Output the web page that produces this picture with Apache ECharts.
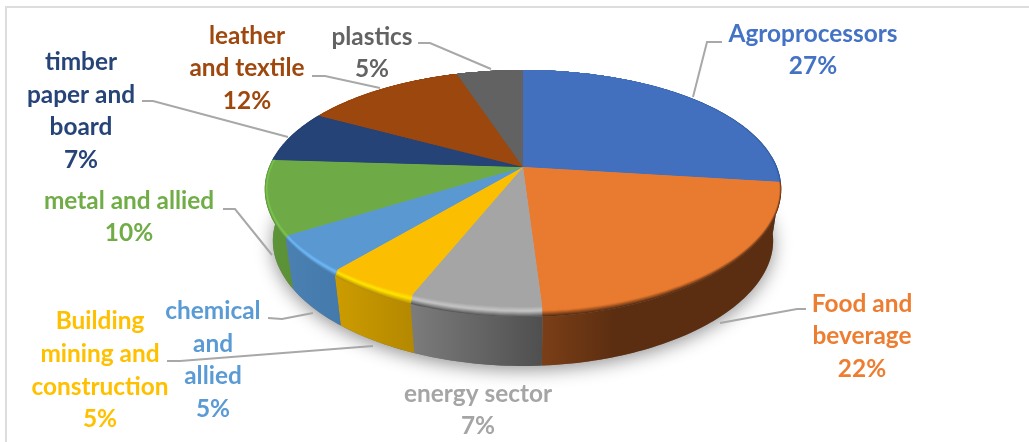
<!DOCTYPE html>
<html>
<head>
<meta charset="utf-8">
<style>html,body{margin:0;padding:0;background:#fff}#c{width:1029px;height:442px}</style>
<script src="https://cdn.jsdelivr.net/npm/echarts@6/dist/echarts.min.js"></script>
</head>
<body>
<div id="c"></div>
<script>
// ---- data ----
const categories = ['Agroprocessors','Food and\nbeverage','energy sector','Building\nmining and\nconstruction','chemical\nand\nallied','metal and allied','timber\npaper and\nboard','leather\nand textile','plastics'];
const shares = [27,22,7,5,5,10,7,12,5];

// ---- styles ----
const topColors   = ['#4270BE','#E97B30','#A5A5A5','#FBBE00','#5A98D2','#6EAB46','#254376','#9B470D','#626262'];
const textColors  = ['#4472C4','#ED7D31','#A5A5A5','#FFC000','#5B9BD5','#70AD47','#264478','#9E480E','#636363'];
const sideLeft    = ['#2F5597','#7B3F17','#7C7C7C','#CC9C00','#4A80B2','#5E9639','#1B3157','#6E330A','#474747'];
const sideRight   = ['#2F5597','#5C2E11','#4F4F4F','#B48800','#447AAB','#5B9037','#1B3157','#6E330A','#474747'];
const bevelMid    = ['#4270BE','#E97B30','#C6C6C6','#FFE600','#6FBBFA','#7FC853','#254376','#9B470D','#626262'];
const bevelEnd    = ['#2F5597','#5C2E11','#5A5A5A','#C49600','#4A80B2','#5E9639','#254376','#9B470D','#626262'];

// ---- layout ----
const labelCenters = [[813,50],[862,336.5],[478,410],[100,370.5],[213,360],[129,217],[81,111],[247,68.5],[372,53]];
const leaders = [
  [[722,42],[707,42],[693,97]],
  [[806,309],[797,309],[720,323]],
  null,
  [[167,361],[180,361],[373,346]],
  [[268,318],[282,319],[313,313]],
  [[223,209],[235,209],[272,255]],
  [[142,101],[153,101],[288,137]],
  [[312,76],[325,76],[380,88]],
  [[418,43],[430,43],[491,69]]
];
// perspective projection of a unit disc on to the page
const cx = 523;
const xPerspective = 0.181;
const faceRim   = {cy:167, rx:250.8, ry:114.6, k:0.181};
const outerRim  = {cy:167, rx:254.0, ry:117.8, k:0.2146};
const bottomRim = {cy:219, rx:246.0, ry:115.4, k:0.2146};
const bevelSteps = 10;

const total = shares.reduce((a,b)=>a+b,0);
const font = 'Lato, "Open Sans", sans-serif';

function project(p, a){
  const u = Math.sin(a), v = -Math.cos(a);
  return [cx + p.rx*u/(1 - xPerspective*v), p.cy + p.ry*v/(1 - p.k*v)];
}
function arcPts(p, a0, a1){
  const n = Math.max(2, Math.ceil(Math.abs(a1-a0)/0.02)), pts = [];
  for(let i=0;i<=n;i++) pts.push(project(p, a0+(a1-a0)*i/n));
  return pts;
}
function angleAt(i){
  let s=0; for(let j=0;j<i;j++) s+=shares[j];
  return s/total*2*Math.PI;
}
function hex(c){ return [1,3,5].map(o=>parseInt(c.substr(o,2),16)); }
function mix(a,b,t){
  const x=hex(a), y=hex(b);
  return 'rgb('+x.map((v,i)=>Math.round(v+(y[i]-v)*t)).join(',')+')';
}
function bevelColor(i,t){
  if(t<0.45) return mix(topColors[i],bevelMid[i],t/0.45);
  return mix(bevelMid[i],bevelEnd[i],(t-0.45)/0.55);
}
const fullCircle = arcPts(bottomRim, 0, 2*Math.PI);

function renderSlice(params, api){
  const i = api.value(0);
  const a0 = angleAt(i), a1 = a0 + api.value(1)/total*2*Math.PI;
  const children = [];
  // side wall: only the part facing the viewer
  const s0 = Math.max(a0, Math.PI*0.47), s1 = Math.min(a1, Math.PI*1.53);
  if(s1 > s0){
    const up = arcPts(outerRim, s0, s1), low = arcPts(bottomRim, s0, s1).reverse();
    children.push({type:'polygon', z2:1, shape:{points:up.concat(low)},
      style:{fill:new echarts.graphic.LinearGradient(0,0,1,0,[
        {offset:0,color:sideLeft[i]},{offset:i===1?0.3:1,color:sideRight[i]},{offset:1,color:sideRight[i]}])}});
  }
  // bevel between the flat face and the outer rim, outermost strip first
  const inner = arcPts(faceRim, a0, a1), outer = arcPts(outerRim, a0, a1);
  for(let s=bevelSteps;s>=1;s--){
    const t = s/bevelSteps;
    const rim = inner.map((p,j)=>[p[0]+(outer[j][0]-p[0])*t, p[1]+(outer[j][1]-p[1])*t]);
    children.push({type:'polygon', z2:2+bevelSteps-s, shape:{points:[[cx,faceRim.cy]].concat(rim)},
      style:{fill:bevelColor(i,t)}});
  }
  // flat face
  children.push({type:'polygon', z2:20, shape:{points:[[cx,faceRim.cy]].concat(inner)},
    style:{fill:topColors[i]}});
  // leader line
  if(leaders[i]) children.push({type:'polyline', z2:0, shape:{points:leaders[i]},
    style:{fill:null, stroke:'#A8A8A8', lineWidth:2}});
  // label
  children.push({type:'text', z2:30, x:labelCenters[i][0], y:labelCenters[i][1],
    style:{text:categories[i]+'\n'+api.value(1)+'%', fill:textColors[i], font:'bold 24.4px '+font,
      align:'center', verticalAlign:'middle', lineHeight:32.6}});
  return {type:'group', children};
}

const chart = echarts.init(document.getElementById('c'), null, {renderer:'canvas'});
chart.setOption({
  animation:false,
  backgroundColor:'#fff',
  graphic:[
    {type:'polyline', z:0, shape:{points:[[6,442],[6,7],[1029,7]]}, style:{fill:null, stroke:'#DDDDDD', lineWidth:2}},
    {type:'polygon', z:1, shape:{points:fullCircle},
      style:{fill:'#777', shadowColor:'rgba(0,0,0,0.42)', shadowBlur:18, shadowOffsetY:4}}
  ],
  series:[{
    type:'custom', coordinateSystem:'none', z:5, silent:true, clip:false,
    data:shares.map((v,i)=>[i,v]),
    renderItem:renderSlice
  }]
});
</script>
</body>
</html>
